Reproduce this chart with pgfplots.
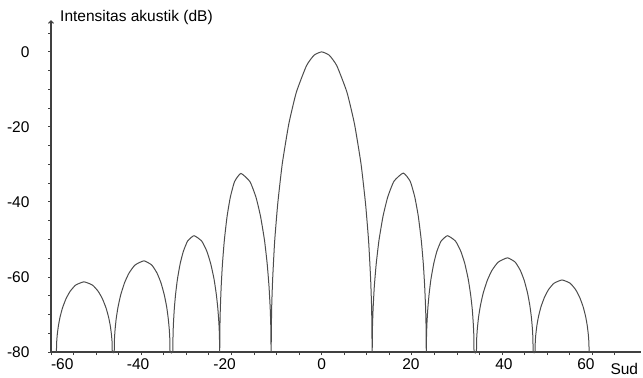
\documentclass[border=0pt]{standalone}
\usepackage{fontspec}
\setmainfont{Liberation Sans}
\usepackage{pgfplots}
\pgfplotsset{compat=1.18}
\usetikzlibrary{arrows.meta}
\begin{document}
\begin{tikzpicture}[font=\fontsize{15.5bp}{18bp}\selectfont]
\useasboundingbox (-51bp,-26bp) rectangle (592bp,352bp);
\begin{axis}[
  at={(0,0)}, anchor=south west,
  scale only axis, width=590bp, height=332bp,
  xmin=-60, xmax=70.8, ymin=-80, ymax=8.5,
  axis x line=bottom, axis y line=left,
  axis line style={black!75, line width=1.2bp},
  x axis line style={-},
  y axis line style={-{Straight Barb[length=2.5bp,width=5bp]}},
  tick align=outside,
  xtick={-57.5,-40.7,-21.5,0,19.8,40.4,58.6},
  xticklabels={-60,-40,-20,0,20,40,60},
  minor xtick={-60,-55,...,65},
  major x tick style={draw=none},
  ytick={-80,-75,...,5},
  yticklabels={-80,,,,-60,,,,-40,,,,-20,,,,0,},
  tick style={black!75, line width=0.9bp},
  major tick length=3bp, minor tick length=3bp,
  yticklabel style={xshift=-15bp},
  clip=false,
]
\addplot[color=black!70, line width=1bp, smooth, tension=0.3] coordinates {
(-58.8,-80) (-58.74,-77.36) (-58.62,-75.46) (-58.37,-73.12) (-58.01,-70.78) (-57.46,-68.29) (-56.67,-65.79) (-55.75,-63.81) (-54.53,-62.16) (-52.7,-61.3) (-50.81,-62.16) (-49.55,-63.81) (-48.61,-65.79) (-47.79,-68.29) (-47.22,-70.78) (-46.84,-73.12) (-46.59,-75.46) (-46.46,-77.36) (-46.4,-80)
(-46.0,-80) (-45.93,-76.57) (-45.80,-74.10) (-45.54,-71.06) (-45.14,-68.02) (-44.55,-64.79) (-43.69,-61.53) (-42.7,-58.96) (-41.38,-56.82) (-39.4,-55.7) (-37.66,-56.82) (-36.5,-58.96) (-35.63,-61.53) (-34.88,-64.79) (-34.35,-68.02) (-34.01,-71.06) (-33.77,-74.10) (-33.66,-76.57) (-33.6,-80)
(-33.0,-80) (-32.95,-75.63) (-32.86,-72.47) (-32.67,-68.59) (-32.39,-64.72) (-31.97,-60.59) (-31.36,-56.44) (-30.65,-53.15) (-29.71,-50.43) (-28.3,-49) (-26.59,-50.43) (-25.45,-53.15) (-24.6,-56.44) (-23.85,-60.59) (-23.34,-64.72) (-23.0,-68.59) (-22.77,-72.47) (-22.66,-75.63) (-22.6,-80)
(-22.55,-73.29) (-22.46,-68.43) (-22.27,-62.48) (-21.99,-56.53) (-21.57,-50.2) (-20.96,-43.82) (-20.25,-38.78) (-19.31,-34.59) (-17.9,-32.4) (-15.89,-34.59) (-14.55,-38.78) (-13.55,-43.82) (-12.67,-50.2) (-12.07,-56.53) (-11.67,-62.48) (-11.40,-68.43) (-11.27,-73.29) (-11.2,-80)
(-11.09,-68.72) (-10.86,-60.56) (-10.42,-50.56) (-9.74,-40.56) (-8.74,-29.92) (-7.28,-19.2) (-5.6,-10.72) (-3.36,-3.68) (-1.68,-0.88) (0,0) (1.68,-0.88) (3.36,-3.68) (5.6,-10.72) (7.28,-19.2) (8.74,-29.92) (9.74,-40.56) (10.42,-50.56) (10.86,-60.56) (11.09,-68.72) (11.2,-80)
(11.27,-73.27) (11.41,-68.41) (11.68,-62.45) (12.1,-56.48) (12.72,-50.14) (13.62,-43.75) (14.65,-38.69) (16.03,-34.49) (18.1,-32.3) (19.63,-34.49) (20.65,-38.69) (21.42,-43.75) (22.08,-50.14) (22.54,-56.48) (22.84,-62.45) (23.05,-68.41) (23.15,-73.27) (23.2,-80)
(23.25,-75.63) (23.34,-72.47) (23.53,-68.59) (23.81,-64.72) (24.23,-60.59) (24.85,-56.44) (25.55,-53.15) (26.49,-50.43) (27.9,-49) (29.67,-50.43) (30.85,-53.15) (31.74,-56.44) (32.5,-60.59) (33.03,-64.72) (33.39,-68.59) (33.62,-72.47) (33.74,-75.63) (33.8,-80)
(34.3,-80) (34.37,-76.46) (34.51,-73.9) (34.78,-70.76) (35.2,-67.63) (35.82,-64.29) (36.72,-60.92) (37.75,-58.26) (39.13,-56.05) (41.2,-54.9) (42.91,-56.05) (44.05,-58.26) (44.91,-60.92) (45.65,-64.29) (46.16,-67.63) (46.5,-70.76) (46.73,-73.9) (46.84,-76.46) (46.9,-80)
(47.3,-80) (47.36,-77.29) (47.48,-75.33) (47.72,-72.93) (48.08,-70.53) (48.62,-67.98) (49.4,-65.41) (50.3,-63.37) (51.5,-61.68) (53.3,-60.8) (55.1,-61.68) (56.3,-63.37) (57.2,-65.41) (57.98,-67.98) (58.52,-70.53) (58.88,-72.93) (59.12,-75.33) (59.24,-77.29) (59.3,-80)
};
\node[anchor=west, inner sep=0pt] at (axis cs:-58,9.3) {Intensitas akustik (dB)};
\node[anchor=east, inner sep=0pt] at (axis cs:70.2,-84.4) {Sud};
\end{axis}
\end{tikzpicture}
\end{document}
